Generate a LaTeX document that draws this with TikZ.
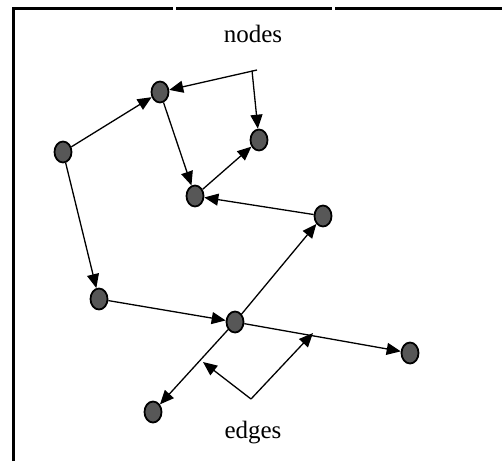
\documentclass[tikz,border=0pt]{standalone}
\usepackage{fontspec}
\setmainfont{Liberation Serif}
\usetikzlibrary{shapes.geometric,arrows.meta}
\tikzset{
  vert/.style={ellipse,draw=black,line width=1.8pt,fill=black!66,minimum width=17pt,minimum height=21pt,inner sep=0pt},
  edge/.style={line width=1.3pt,-{Triangle[length=14pt,width=12pt]}},
  frame/.style={line width=3pt},
  lbl/.style={font=\fontsize{25}{30}\selectfont,inner sep=0pt}
}
\begin{document}
\begin{tikzpicture}[x=1pt,y=-1pt]
\useasboundingbox (0,0) rectangle (502,461);
% frame
\draw[frame] (13,461) -- (13,8) -- (173,8);
\draw[frame] (176,8) -- (332,8);
\draw[frame] (335,8) -- (502,8);
% nodes
\node[vert] (A) at (63,152) {};
\node[vert] (B) at (160,92) {};
\node[vert] (C) at (259,140) {};
\node[vert] (D) at (195,196) {};
\node[vert] (E) at (323,216) {};
\node[vert] (F) at (99,299) {};
\node[vert] (G) at (235,322) {};
\node[vert] (H) at (410,353) {};
\node[vert] (I) at (153,412) {};
% edges
\draw[edge] (A) -- (B);
\draw[edge] (B) -- (D);
\draw[edge] (D) -- (C);
\draw[edge] (E) -- (D);
\draw[edge] (A) -- (F);
\draw[edge] (F) -- (G);
\draw[edge] (G) -- (H);
\draw[edge] (G) -- (E);
\draw[edge] (G) -- (I);
% labels
\node[lbl] (nodes) at (253,34) {nodes};
\node[lbl] (edges) at (253,433) {edges};
\coordinate (na) at (257,70);
\coordinate (nb) at (252,70.5);
\draw[edge] (na) -- (B);
\draw[edge] (nb) -- (C);
\coordinate (ea) at (251,399);
\coordinate (e1) at (203,362);
\coordinate (e2) at (313,333);
\draw[edge] (ea) -- (e1);
\draw[edge] (ea) -- (e2);
\end{tikzpicture}
\end{document}
